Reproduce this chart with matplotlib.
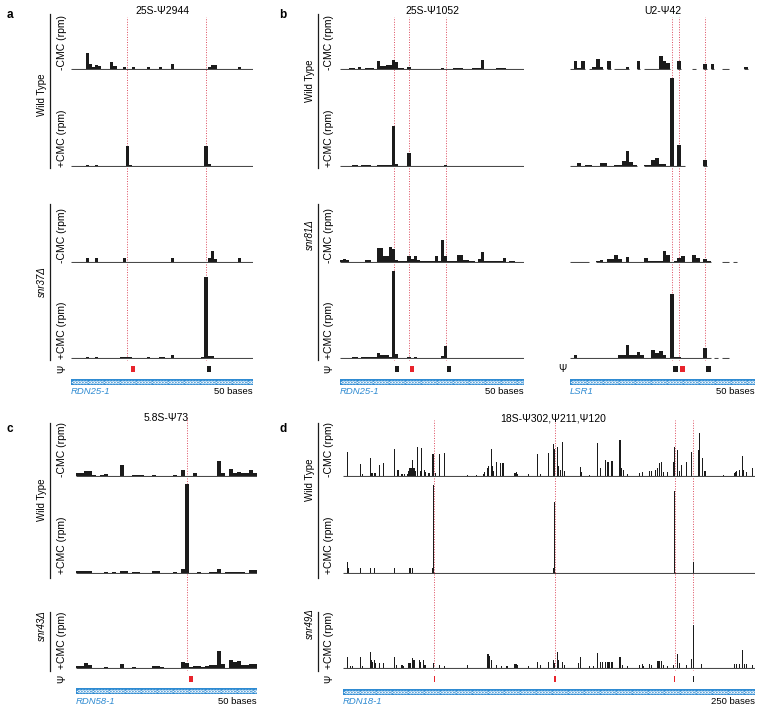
""" Pseudouridine profiles (Pseudo-seq style tracks)
"""

import matplotlib.pyplot as plt
import numpy as np

# ---- data: reads per base (rpm), None = no data ----
# panel a, 25S-Psi2944
a_wt_minus = [0, 0, 0, 0, 0, 16, 5, 2, 4, 3,
              0, 0, 0, 7, 3, 0, 0, 2, 0, 0,
              2, 0, 0, 0, 0, 2, 0, 0, 0, 2,
              0, 0, 0, 5, 0, 0, 0, 0, 0, 0,
              0, 0, 0, 0, 0, 2, 4, 4, 0, 0,
              0, 0, 0, 0, 0, 2, 0, 0, 0, 0]
a_wt_plus = [0, 0, 0, 0, 0, 1, 0, 0, 1, 0,
             0, 0, 0, 0, 0, 0, 0, 0, 20, 1,
             0, 0, 0, 0, 0, 0, 0, 0, 0, 0,
             0, 0, 0, 0, 0, 0, 0, 0, 0, 0,
             0, 0, 0, 0, 20, 2, 0, 0, 0, 0,
             0, 0, 0, 0, 0, 0, 0, 0, 0, 0]
a_mut_minus = [0, 0, 0, 0, 0, 4, 0, 0, 4, 0,
               0, 0, 0, 0, 0, 0, 0, 4, 0, 0,
               0, 0, 0, 0, 0, 0, 0, 0, 0, 0,
               0, 0, 0, 4, 0, 0, 0, 0, 0, 0,
               0, 0, 0, 0, 0, 4, 11, 3, 0, 0,
               0, 0, 0, 0, 0, 4, 0, 0, 0, 0]
a_mut_plus = [0, 0, 0, 0, 0, 1, 0, 0, 1, 0,
              0, 0, 0, 0, 0, 0, 0.7, 0.7, 0.7, 0.7,
              0, 0, 0, 0, 0, 1, 0, 0, 0, 1,
              1, 0, 0, 3, 0, 0, 0, 0, 0, 0,
              0, 0, 0, 1, 81, 2, 2, 0, 0, 0,
              0, 0, 0, 0, 0, 0, 0, 0, 0, 0]
a_lines = [18, 44]
a_marks = [20, 45]
a_mark_red = [True, False]

# panel b left, 25S-Psi1052
b_wt_minus = [0, 0, 0, 1, 1, 0, 2, 0, 1, 1,
              1, 0, 8, 3, 3, 4, 4, 9, 7, 1,
              1, 0, 2, 0, 0, 0, 0, 0, 0, 0,
              0, 0, 0, 1, 0, 0, 0, 1, 1, 1,
              0, 0, 0, 1, 1, 1, 9, 0, 0, 0,
              0, 1, 1, 1, 0, 0, 0, 0, 0, 0]
b_wt_plus = [0, 0, 0, 0, 1, 1, 0, 1, 1, 1,
             0, 0, 1.5, 1.5, 1.5, 1.5, 1.5, 40, 2, 0,
             0, 0, 13, 0, 0, 0, 0, 0, 0, 0,
             0, 0, 0, 0, 1, 0, 0, 0, 0, 0,
             0, 0, 0, 0, 0, 0, 0, 0, 0, 0,
             0, 0, 0, 0, 0, 0, 0, 0, 0, 0]
b_mut_minus = [2, 3, 2, 0.5, 0.5, 0.5, 0.5, 0.5, 2, 2,
               0.5, 0.5, 14, 14, 6, 6, 15, 13, 2, 1,
               1, 1, 6, 3, 6, 2, 1, 1, 1, 1,
               1, 6, 1, 22, 6, 1, 1, 1, 7, 7,
               2, 2, 1, 1, 0.5, 3, 10, 1, 1, 1,
               1, 1, 1, 4, 0.5, 1, 1, 0.5, 0.5, 0.5]
b_mut_plus = [0, 0, 0, 0, 1, 1, 0, 1, 1, 1,
              1, 1, 5, 3, 3, 3, 1, 87, 4, 0,
              0, 0, 1, 0, 1, 0, 0, 0, 0, 0,
              0, 0, 0, 2, 12, 0, 0, 0, 0, 0,
              0, 0, 0, 0, 0, 0, 0, 0, 0, 0,
              0, 0, 0, 0, 0, 0, 0, 0, 0, 0]
b_lines = [17, 22, 34]
b_marks = [18, 23, 35]
b_mark_red = [False, True, False]

# panel b right, U2-Psi42
u2_wt_minus = [0.5, 8, 1, 8, None, 0.5, 2, 10, 2, None,
               8, None, 0.3, 0.3, 0.3, 2, None, None, 8, None,
               0.3, 0.3, 0.3, 0.3, 13, 8, 6, None, None, 8,
               None, None, None, 0.3, None, None, 5, None, 5, None,
               None, 0.3, 0.3, None, None, None, None, 2, None, None]
u2_wt_plus = [0.3, 0.3, 3, 0.5, 1, 1, 0.3, 0.3, 3, 3,
              0.3, 0.3, 1, 1, 5, 15, 4, 1, None, None,
              1, 1, 6, 8, 2, 2, 0.5, 88, 0.5, 21,
              0.5, None, None, None, None, None, 6, None, None, None,
              None, None, None, None, None, None, None, None, None, None]
u2_mut_minus = [0.3, 0.3, 0.3, 0.3, 0.3, None, None, 1, 2, 0.3,
                3, 3, 7, 3, 0.3, 5, 0.3, 0.3, 0.3, 0.3,
                4, 1.5, 1.5, 1.5, 1.5, 11, 7, 0.5, 1, 4,
                6, 0.5, 0.5, 7, 4, 0.5, 3, 1, None, None,
                None, 0.3, 0.3, None, 0.3, None, None, None, None, None]
u2_mut_plus = [0.3, 3, 0.5, 0.5, 0.3, 0.3, 0.3, 0.3, 0.3, 0.5,
               0.3, 0.3, 0.3, 3, 3, 13, 3, 3, 6, 3,
               0.5, 0.5, 8, 5, 7, 3, 0.5, 64, 1, 1,
               0.3, 0.3, 0.3, 0.3, 0.3, 0.3, 10, 0.5, None, 0.3,
               None, 0.3, 0.3, None, None, None, None, None, None, None]
u2_lines = [27, 29, 36]
u2_marks = [28, 30, 37]
u2_mark_red = [False, True, False]

# panel c, 5.8S-Psi73
c_wt_minus = [3, 3, 5, 5, 1, 0.5, 1, 2, 0.3, 0.3,
              0.3, 11, 0.3, 0.3, 1, 1, 1, 0.3, 0.3, 1,
              0.5, 0.5, 0.5, 0.3, 1, 0.3, 6, 0.5, 0.3, 3,
              0.3, 0.3, 0.3, 0.3, 0.3, 15, 3, 0.5, 7, 3,
              4, 3, 3, 6, 3]
c_wt_plus = [2, 2, 2, 2, 0.5, 0.5, 0.5, 1, 0.5, 1,
             0.5, 2, 2, 0.5, 1, 1, 0.5, 0.5, 0.5, 2,
             2, 0.5, 0.5, 0.5, 1, 0.5, 4, 89, 0.5, 0.5,
             1, 0.5, 0.5, 1, 1, 4, 0.5, 1, 1, 1,
             1, 1, 0.5, 3, 3]
c_mut_plus = [2, 2, 5, 3, 0.5, 0.5, 0.5, 1, 0.3, 0.3,
              0.3, 4, 0.5, 0.5, 1, 0.5, 0.5, 0.5, 0.5, 2,
              2, 1, 0.5, 0.5, 0.5, 0.5, 6, 5, 1, 2,
              2, 1, 2, 3, 3, 17, 4, 0.5, 8, 6,
              7, 3, 3, 4, 4]
c_lines = [27]
c_marks = [28]
c_mark_red = [True]

# panel d, 18S-Psi302,Psi211,Psi120 (sparse: base index, rpm)
d_len = 310
d_wt_minus_pos = [3, 13, 14, 20, 21, 22, 23, 24, 27, 30, 38, 41, 44, 46, 48, 49,
                  50, 51, 52, 53, 54, 56, 58, 59, 61, 62, 64, 65, 67, 68, 69, 72,
                  76, 93, 100, 105, 106, 108, 109, 111, 112, 113, 115, 118, 120,
                  129, 130, 131, 139, 146, 148, 154, 158, 159, 161, 162, 163, 165,
                  166, 178, 179, 185, 191, 193, 197, 199, 202, 208, 209, 211, 214,
                  223, 225, 230, 232, 235, 236, 238, 239, 241, 244, 248, 249, 251,
                  253, 254, 258, 262, 267, 268, 270, 272, 286, 294, 295, 296, 298,
                  300, 301, 303, 308]
d_wt_minus_val = [24, 12, 2, 18, 3, 3, 3, 3, 11, 13, 27, 6, 2, 2, 2, 5,
                  8, 8, 16, 8, 5, 29, 5, 28, 6, 4, 3, 3, 22, 22, 3, 22,
                  23, 1, 1, 2, 4, 8, 10, 27, 10, 5, 14, 13, 13,
                  3, 4, 2, 2, 22, 2, 23, 32, 27, 29, 10, 6, 34,
                  5, 9, 4, 1, 33, 8, 16, 14, 15, 36, 8, 6, 2,
                  3, 4, 5, 5, 6, 8, 13, 14, 4, 4, 14, 29, 26,
                  5, 11, 14, 24, 26, 43, 18, 5, 1, 3, 4, 5, 6,
                  20, 6, 4, 8]
d_wt_plus_pos = [3, 4, 13, 20, 23, 38, 50, 52, 67, 68, 158, 159, 249, 263]
d_wt_plus_val = [11, 5, 5, 5, 5, 5, 5, 5, 5, 88, 5, 71, 82, 11]
d_mut_plus_pos = [3, 5, 7, 13, 14, 20, 21, 22, 23, 24, 27, 30, 38, 40, 44, 45,
                  49, 50, 52, 53, 57, 58, 60, 61, 62, 68, 72, 76, 93, 108, 109,
                  110, 111, 115, 119, 123, 129, 130, 131, 139, 146, 148, 154,
                  158, 159, 161, 162, 165, 166, 177, 178, 185, 188, 191, 193,
                  195, 197, 199, 200, 202, 208, 210, 214, 223, 225, 226, 230,
                  232, 236, 237, 238, 239, 241, 244, 248, 251, 253, 258, 262,
                  263, 269, 294, 296, 298, 300, 302, 303, 308]
d_mut_plus_val = [11, 2, 2, 11, 2, 16, 8, 6, 8, 5, 5, 5, 11, 3, 3, 2,
                  5, 5, 10, 8, 8, 6, 8, 3, 3, 5, 3, 2, 3, 14, 14,
                  12, 8, 3, 2, 2, 4, 4, 3, 2, 6, 3, 6,
                  8, 5, 16, 8, 6, 3, 5, 11, 2, 2, 15, 6,
                  6, 6, 6, 6, 6, 11, 3, 2, 3, 4, 2, 4,
                  3, 7, 7, 7, 7, 3, 2, 3, 14, 5, 3, 9,
                  43, 4, 4, 4, 4, 18, 4, 4, 3]
d_lines = [68, 159, 249, 263]
d_marks = [68, 159, 249, 263]
d_mark_red = [True, True, True, False]

# ---- style ----
W, H = 762, 712
BAR = '#1b1b1b'
ZERO = '#4a4a4a'
DOT = '#dd4b5e'
RED = '#e8242c'
GENE = '#2f8bd2'

plt.rcParams['font.family'] = ['Liberation Sans', 'DejaVu Sans']
fig = plt.figure(figsize=(W / 100, H / 100), dpi=100)


def fx(x):
    return x / W


def fy(y):
    return 1 - y / H


def box(x0, y0, x1, y1):
    """ axes placed by a pixel box, y counted from the top """
    ax = fig.add_axes([fx(x0), fy(y1), (x1 - x0) / W, (y1 - y0) / H])
    ax.set_axis_off()
    return ax


def draw_track(x0, x1, top, base, values, n=None, pos=None, width=1):
    ax = box(x0, top, x1, base + 1)
    if pos is None:
        n = len(values)
        pos = [i for i, v in enumerate(values) if v is not None]
        vals = [values[i] for i in pos]
        present = pos
    else:
        vals = values
        present = list(range(n))
    ax.bar(pos, vals, width=width, align='edge', color=BAR, linewidth=0)
    # zero line only where the track has data
    runs = []
    for p in present:
        if runs and runs[-1][1] == p:
            runs[-1][1] = p + 1
        else:
            runs.append([p, p + 1])
    for s, e in runs:
        ax.hlines(0, s, e, color=ZERO, lw=0.8)
    ax.set_xlim(0, n)
    ax.set_ylim(-1, base - top)
    return ax


def dotted(x0, x1, y0, y1, n, lines):
    ax = box(x0, y0, x1, y1)
    ax.set_xlim(0, n)
    ax.set_ylim(0, 1)
    ax.vlines(np.array(lines) + 0.5, 0, 1, color=DOT, lw=0.7,
              linestyles=(0, (1, 1.6)))


def psi_row(x0, x1, y0, y1, n, marks, red, width):
    ax = box(x0, y0, x1, y1)
    ax.set_xlim(0, n)
    ax.set_ylim(0, 1)
    ax.bar(np.array(marks) + 0.5, 1, width=width,
           color=[RED if r else BAR for r in red], linewidth=0)


def gene_row(x0, x1, y0, y1, name, scale):
    ax = box(x0, y0, x1, y1)
    ax.set_xlim(0, 1)
    ax.set_ylim(0, 1)
    ax.axhspan(0, 1, color=GENE, lw=0)
    step = 3.2 / (x1 - x0)
    xs = np.arange(step / 2, 1, step)
    ax.plot(xs, np.full(len(xs), 0.5), ls='none', marker='<', ms=2.3,
            mfc='none', mec='white', mew=0.5)
    fig.text(fx(x0), fy(y1 + 7), name, color=GENE, style='italic',
             fontsize=6.8, ha='left', va='center')
    fig.text(fx(x1), fy(y1 + 7), scale, fontsize=6.8, ha='right',
             va='center')


def side_labels(xl, xs, rows, groups, psi_y):
    # rows: (baseline y, text), groups: (y0, y1, text, italic, centre)
    for base, txt in rows:
        fig.text(fx(xl), fy(base + 1), txt, rotation=90, fontsize=7.5,
                 ha='center', va='bottom')
    for y0, y1, txt, ital, yc in groups:
        fig.add_artist(plt.Line2D([fx(xs + 8), fx(xs + 8)], [fy(y0), fy(y1)],
                                  color=BAR, lw=0.9))
        fig.text(fx(xs), fy(yc), txt, rotation=90, fontsize=7,
                 style='italic' if ital else 'normal',
                 ha='center', va='center')
    fig.text(fx(xl), fy(psi_y), 'Ψ', rotation=90, fontsize=7,
             ha='center', va='center')


# ---- top row: panels a and b ----
ROW1 = [(15, 69), (74, 166), (200, 262), (268, 358)]
cols = [
    (71, 253, [a_wt_minus, a_wt_plus, a_mut_minus, a_mut_plus],
     a_lines, a_marks, a_mark_red, 'RDN25-1', '25S-Ψ2944'),
    (340, 524, [b_wt_minus, b_wt_plus, b_mut_minus, b_mut_plus],
     b_lines, b_marks, b_mark_red, 'RDN25-1', '25S-Ψ1052'),
    (570, 755, [u2_wt_minus, u2_wt_plus, u2_mut_minus, u2_mut_plus],
     u2_lines, u2_marks, u2_mark_red, 'LSR1', 'U2-Ψ42'),
]
for x0, x1, tracks, lines, marks, red, gname, title in cols:
    n = len(tracks[0])
    dotted(x0, x1, 17, 361, n, lines)
    for (top, base), vals in zip(ROW1, tracks):
        draw_track(x0, x1, top, base, vals)
    psi_row(x0, x1, 366, 372, n, marks, red, 1.3)
    gene_row(x0, x1, 379, 385, gname, '50 bases')
    fig.text(fx((x0 + x1) / 2), fy(11), title, fontsize=7.5,
             ha='center', va='center')

side_labels(62, 42,
            [(69, '-CMC (rpm)'), (166, '+CMC (rpm)'),
             (262, '-CMC (rpm)'), (358, '+CMC (rpm)')],
            [(14, 168, 'Wild Type', False, 95),
             (204, 360, 'snr37Δ', True, 282)], 369)
side_labels(329, 310,
            [(69, '-CMC (rpm)'), (166, '+CMC (rpm)'),
             (262, '-CMC (rpm)'), (358, '+CMC (rpm)')],
            [(14, 168, 'Wild Type', False, 81),
             (204, 360, 'snr81Δ', True, 235)], 369)
fig.text(fx(562), fy(369), 'Ψ', fontsize=7, ha='center', va='center')

# ---- bottom row: panels c and d ----
ROW2 = [(426, 476), (478, 573), (618, 668)]

n = len(c_wt_minus)
dotted(76, 257, 417, 671, n, c_lines)
for (top, base), vals in zip(ROW2, [c_wt_minus, c_wt_plus, c_mut_plus]):
    draw_track(76, 257, top, base, vals)
psi_row(76, 257, 676, 682, n, c_marks, c_mark_red, 1.0)
gene_row(76, 257, 688, 694, 'RDN58-1', '50 bases')
fig.text(fx(166), fy(418), '5.8S-Ψ73', fontsize=7.5, ha='center',
         va='center')

dotted(343, 755, 420, 671, d_len, d_lines)
d_tracks = [(d_wt_minus_pos, d_wt_minus_val), (d_wt_plus_pos, d_wt_plus_val),
            (d_mut_plus_pos, d_mut_plus_val)]
for (top, base), (p, v) in zip(ROW2, d_tracks):
    draw_track(343, 755, top, base, v, n=d_len, pos=p, width=0.8)
psi_row(343, 755, 676, 682, d_len, d_marks, d_mark_red, 0.8)
gene_row(343, 755, 689, 695, 'RDN18-1', '250 bases')
fig.text(fx(553), fy(418), '18S-Ψ302,Ψ211,Ψ120', fontsize=7.5,
         ha='center', va='center')

side_labels(62, 42,
            [(476, '-CMC (rpm)'), (573, '+CMC (rpm)'), (668, '+CMC (rpm)')],
            [(423, 578, 'Wild Type', False, 500),
             (612, 671, 'snr43Δ', True, 626)], 679)
side_labels(329, 310,
            [(476, '-CMC (rpm)'), (573, '+CMC (rpm)'), (668, '+CMC (rpm)')],
            [(423, 578, 'Wild Type', False, 480),
             (612, 671, 'snr49Δ', True, 624)], 679)

# panel letters
for letter, (x, y) in zip('abcd', [(10, 15), (283, 15), (10, 429), (283, 429)]):
    fig.text(fx(x), fy(y), letter, fontsize=8.5, fontweight='bold',
             ha='center', va='center')

plt.savefig('out.png', dpi=100)
